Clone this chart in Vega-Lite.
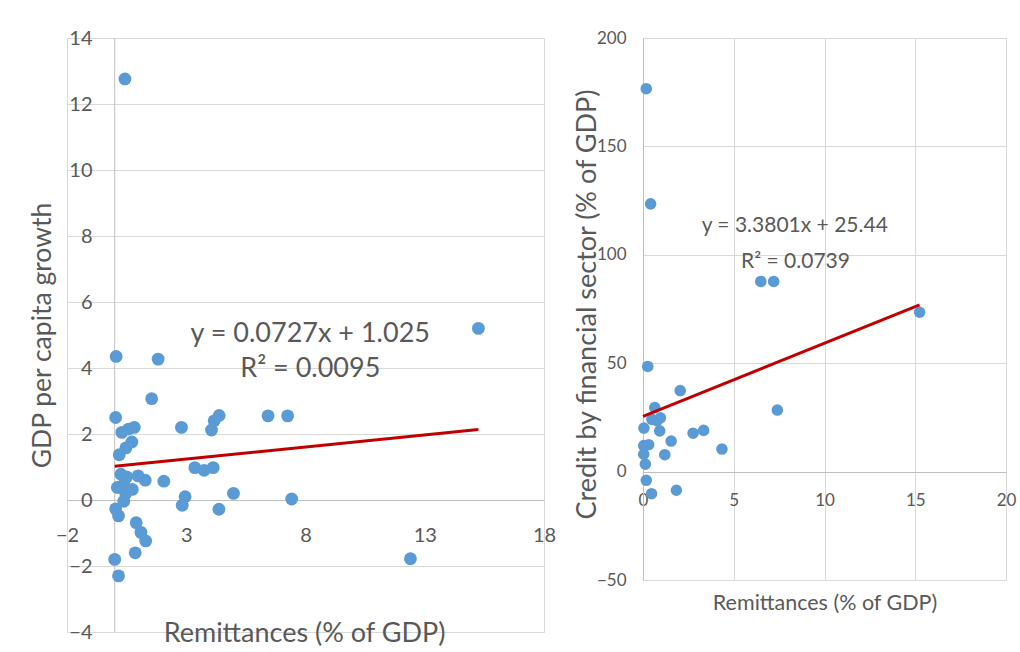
{
  "$schema": "https://vega.github.io/schema/vega-lite/v6.json",
  "background": "white",
  "padding": {"left": 28, "top": 27, "right": 0, "bottom": 0},
  "spacing": 15,
  "config": {
    "font": "Lato",
    "view": {"stroke": "#d9d9d9"},
    "axis": {
      "gridColor": "#d9d9d9",
      "labelColor": "#595959",
      "titleColor": "#595959",
      "ticks": false,
      "labelFont": "Lato",
      "titleFont": "Lato",
      "titleFontWeight": "normal",
      "domainColor": "#bfbfbf",
      "labelFlush": false,
      "labelOverlap": false
    }
  },
  "datasets": {
    "left": [
      {"remit": 0.43, "gdp": 12.76}, {"remit": 15.25, "gdp": 5.2}, {"remit": 0.06, "gdp": 4.35},
      {"remit": 1.82, "gdp": 4.27}, {"remit": 1.55, "gdp": 3.07}, {"remit": 0.04, "gdp": 2.5},
      {"remit": 6.43, "gdp": 2.55}, {"remit": 7.25, "gdp": 2.55}, {"remit": 4.38, "gdp": 2.56},
      {"remit": 4.17, "gdp": 2.4}, {"remit": 4.06, "gdp": 2.12}, {"remit": 2.8, "gdp": 2.2},
      {"remit": 0.82, "gdp": 2.2}, {"remit": 0.58, "gdp": 2.15}, {"remit": 0.3, "gdp": 2.05},
      {"remit": 0.72, "gdp": 1.76}, {"remit": 0.47, "gdp": 1.58}, {"remit": 0.19, "gdp": 1.37},
      {"remit": 0.26, "gdp": 0.78}, {"remit": 0.5, "gdp": 0.7}, {"remit": 0.98, "gdp": 0.73},
      {"remit": 1.28, "gdp": 0.6}, {"remit": 2.06, "gdp": 0.57}, {"remit": 3.36, "gdp": 0.98},
      {"remit": 3.75, "gdp": 0.9}, {"remit": 4.13, "gdp": 0.98}, {"remit": 0.11, "gdp": 0.38},
      {"remit": 0.38, "gdp": 0.47}, {"remit": 0.74, "gdp": 0.32}, {"remit": 0.46, "gdp": 0.2},
      {"remit": 0.38, "gdp": -0.04}, {"remit": 2.95, "gdp": 0.1}, {"remit": 2.83, "gdp": -0.16},
      {"remit": 4.98, "gdp": 0.2}, {"remit": 7.42, "gdp": 0.03}, {"remit": 4.37, "gdp": -0.28},
      {"remit": 0.04, "gdp": -0.27}, {"remit": 0.16, "gdp": -0.48}, {"remit": 0.9, "gdp": -0.69},
      {"remit": 1.1, "gdp": -0.98}, {"remit": 1.3, "gdp": -1.24}, {"remit": 0.86, "gdp": -1.6},
      {"remit": 0.0, "gdp": -1.8}, {"remit": 0.16, "gdp": -2.3}, {"remit": 12.4, "gdp": -1.78}
    ],
    "leftFit": [{"remit": 0, "gdp": 1.025}, {"remit": 15.25, "gdp": 2.134}],
    "right": [
      {"remit": 0.18, "credit": 176.6}, {"remit": 0.42, "credit": 123.5}, {"remit": 6.49, "credit": 87.7},
      {"remit": 7.2, "credit": 87.7}, {"remit": 15.24, "credit": 73.5}, {"remit": 0.26, "credit": 48.5},
      {"remit": 2.05, "credit": 37.4}, {"remit": 7.4, "credit": 28.4}, {"remit": 0.65, "credit": 29.5},
      {"remit": 0.96, "credit": 24.8}, {"remit": 0.49, "credit": 24.1}, {"remit": 0.77, "credit": 23.5},
      {"remit": 0.05, "credit": 20.1}, {"remit": 0.92, "credit": 18.8}, {"remit": 2.76, "credit": 17.7},
      {"remit": 3.34, "credit": 19.0}, {"remit": 1.55, "credit": 14.1}, {"remit": 4.35, "credit": 10.4},
      {"remit": 0.31, "credit": 12.4}, {"remit": 0.04, "credit": 12.0}, {"remit": 0.04, "credit": 8.0},
      {"remit": 1.2, "credit": 7.8}, {"remit": 0.13, "credit": 3.4}, {"remit": 0.18, "credit": -4.0},
      {"remit": 0.47, "credit": -10.2}, {"remit": 1.84, "credit": -8.6}
    ],
    "rightFit": [{"remit": 0, "credit": 25.44}, {"remit": 15.24, "credit": 76.95}]
  },
  "hconcat": [
    {
      "width": 477,
      "height": 594,
      "layer": [
        {
          "data": {"values": [{}]},
          "mark": {"type": "rule", "color": "#bfbfbf", "strokeWidth": 1},
          "encoding": {"x": {"datum": 0, "type": "quantitative"}}
        },
        {
          "data": {"name": "left"},
          "mark": {"type": "circle", "size": 165, "color": "#5b9bd5", "opacity": 1},
          "encoding": {
            "x": {
              "field": "remit", "type": "quantitative",
              "scale": {"domain": [-2, 18], "nice": false, "zero": false},
              "axis": {
                "values": [-2, 3, 8, 13, 18], "offset": -132, "labelPadding": 25,
                "labelFontSize": 20, "title": "Remittances (% of GDP)", "titleFontSize": 27,
                "titleY": 120, "titleX": 237, "titleBaseline": "top"
              }
            },
            "y": {
              "field": "gdp", "type": "quantitative",
              "scale": {"domain": [-4, 14], "nice": false, "zero": false},
              "axis": {
                "values": [-4, -2, 0, 2, 4, 6, 8, 10, 12, 14], "domain": false,
                "labelAlign": "right", "labelPadding": -25, "labelFontSize": 20,
                "title": "GDP per capita growth", "titleFontSize": 26.5,
                "titleX": -11, "titleY": 297
              }
            }
          }
        },
        {
          "data": {"name": "leftFit"},
          "mark": {"type": "line", "color": "#c00000", "strokeWidth": 3},
          "encoding": {
            "x": {"field": "remit", "type": "quantitative"},
            "y": {"field": "gdp", "type": "quantitative"}
          }
        },
        {
          "data": {"values": [{}]},
          "mark": {"type": "text", "fontSize": 27, "color": "#595959", "font": "Lato"},
          "encoding": {
            "x": {"datum": 8.2, "type": "quantitative"},
            "y": {"datum": 5.04, "type": "quantitative"},
            "text": {"value": "y = 0.0727x + 1.025"}
          }
        },
        {
          "data": {"values": [{}]},
          "mark": {"type": "text", "fontSize": 27, "color": "#595959", "font": "Lato"},
          "encoding": {
            "x": {"datum": 8.2, "type": "quantitative"},
            "y": {"datum": 3.97, "type": "quantitative"},
            "text": {"value": "R² = 0.0095"}
          }
        }
      ]
    },
    {
      "width": 363,
      "height": 542,
      "layer": [
        {
          "data": {"name": "right"},
          "mark": {"type": "circle", "size": 135, "color": "#5b9bd5", "opacity": 1},
          "encoding": {
            "x": {
              "field": "remit", "type": "quantitative",
              "scale": {"domain": [0, 20], "nice": false},
              "axis": {
                "values": [0, 5, 10, 15, 20], "offset": -108, "labelPadding": 20,
                "labelFontSize": 17, "title": "Remittances (% of GDP)", "titleFontSize": 21.5,
                "titleY": 120, "titleBaseline": "top"
              }
            },
            "y": {
              "field": "credit", "type": "quantitative",
              "scale": {"domain": [-50, 200], "nice": false, "zero": false},
              "axis": {
                "values": [-50, 0, 50, 100, 150, 200],
                "labelPadding": 17, "labelFontSize": 17,
                "title": "Credit by financial sector (% of GDP)", "titleFontSize": 27,
                "titleX": -42, "titleY": 266
              }
            }
          }
        },
        {
          "data": {"name": "rightFit"},
          "mark": {"type": "line", "color": "#c00000", "strokeWidth": 3},
          "encoding": {
            "x": {"field": "remit", "type": "quantitative"},
            "y": {"field": "credit", "type": "quantitative"}
          }
        },
        {
          "data": {"values": [{}]},
          "mark": {"type": "text", "fontSize": 21, "color": "#595959", "font": "Lato"},
          "encoding": {
            "x": {"datum": 8.36, "type": "quantitative"},
            "y": {"datum": 113.2, "type": "quantitative"},
            "text": {"value": "y = 3.3801x + 25.44"}
          }
        },
        {
          "data": {"values": [{}]},
          "mark": {"type": "text", "fontSize": 21, "color": "#595959", "font": "Lato"},
          "encoding": {
            "x": {"datum": 8.4, "type": "quantitative"},
            "y": {"datum": 96.9, "type": "quantitative"},
            "text": {"value": "R² = 0.0739"}
          }
        }
      ]
    }
  ]
}
